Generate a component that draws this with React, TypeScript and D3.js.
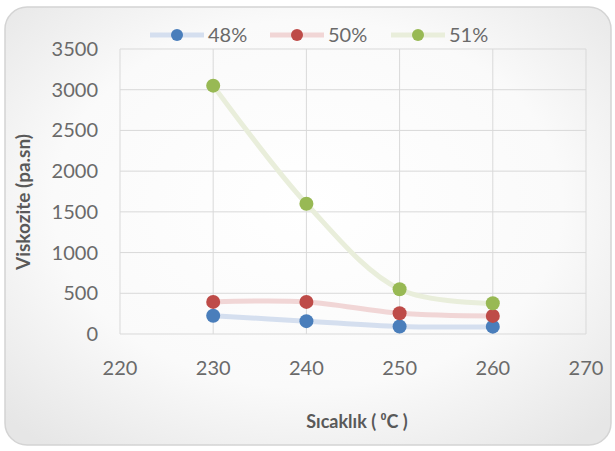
import React from "react";
import * as d3 from "d3";

const temps = [230, 240, 250, 260];
const s48 = [225, 158, 92, 90];
const s50 = [394, 394, 255, 222];
const s51 = [3050, 1600, 550, 378];
const seriesNames = ["48%", "50%", "51%"];
const xTicks = [220, 230, 240, 250, 260, 270];
const yTicks = [0, 500, 1000, 1500, 2000, 2500, 3000, 3500];

const W = 615, H = 451;
const L = 120, R = 586, T = 49, B = 334;

export default function App() {
  const x = d3.scaleLinear().domain([220, 270]).range([L, R]);
  const y = d3.scaleLinear().domain([0, 3500]).range([B, T]);
  const series = [
    { name: seriesNames[0], vals: s48, line: "#d5dfef", dot: "#4a7ebb" },
    { name: seriesNames[1], vals: s50, line: "#f1d6d6", dot: "#be4b48" },
    { name: seriesNames[2], vals: s51, line: "#e9eedb", dot: "#98b954" },
  ];
  const line = d3
    .line<[number, number]>()
    .x((d) => x(d[0]))
    .y((d) => y(d[1]))
    .curve(d3.curveCatmullRom.alpha(0.5));
  const font = "Lato, 'Open Sans', sans-serif";
  const legendX = [150, 270, 391];
  return (
    <svg width={W} height={H} style={{ position: "absolute", left: 0, top: 0 }}>
      <defs>
        <radialGradient id="bg" cx="50%" cy="45%" r="70%">
          <stop offset="0%" stopColor="#ffffff" />
          <stop offset="60%" stopColor="#fafafa" />
          <stop offset="100%" stopColor="#e6e6e6" />
        </radialGradient>
      </defs>
      <rect x={0} y={0} width={W} height={H} fill="#ffffff" />
      <rect x={5} y={7} width={606} height={438} rx={22} ry={22} fill="url(#bg)" stroke="#d4d4d4" strokeWidth={1.5} />
      {yTicks.map((t) => (
        <line key={"gy" + t} x1={L} x2={R} y1={y(t)} y2={y(t)} stroke="#d9d9d9" strokeWidth={1} />
      ))}
      {xTicks.map((t) => (
        <line key={"gx" + t} x1={x(t)} x2={x(t)} y1={T} y2={B} stroke="#d9d9d9" strokeWidth={1} />
      ))}
      {yTicks.map((t) => (
        <text key={"ty" + t} x={98} y={y(t)} dy="0.35em" textAnchor="end" fontFamily={font} fontSize={20} fill="#6a6a6a">
          {t}
        </text>
      ))}
      {xTicks.map((t) => (
        <text key={"tx" + t} x={x(t)} y={368} dy="0.35em" textAnchor="middle" fontFamily={font} fontSize={20} fill="#6a6a6a">
          {t}
        </text>
      ))}
      {series.map((s) => (
        <path
          key={"l" + s.name}
          d={line(temps.map((t, i) => [t, s.vals[i]] as [number, number])) || ""}
          fill="none"
          stroke={s.line}
          strokeWidth={5}
        />
      ))}
      {series.map((s) =>
        temps.map((t, i) => (
          <circle key={"c" + s.name + t} cx={x(t)} cy={y(s.vals[i])} r={7} fill={s.dot} />
        ))
      )}
      {series.map((s, i) => (
        <g key={"lg" + s.name}>
          <line x1={legendX[i]} x2={legendX[i] + 54} y1={35} y2={35} stroke={s.line} strokeWidth={5} />
          <circle cx={legendX[i] + 27} cy={35} r={6} fill={s.dot} />
          <text x={legendX[i] + 58} y={35} dy="0.35em" fontFamily={font} fontSize={20} fill="#6a6a6a">
            {s.name}
          </text>
        </g>
      ))}
      <text x={357} y={422} dy="0.35em" textAnchor="middle" fontFamily={font} fontWeight="bold" fontSize={18} fill="#595959">
        Sıcaklık ( ⁰C )
      </text>
      <text
        transform={`translate(23,202) rotate(-90)`}
        textAnchor="middle"
        dy="0.35em"
        fontFamily={font}
        fontWeight="bold"
        fontSize={19}
        fill="#595959"
      >
        Viskozite (pa.sn)
      </text>
    </svg>
  );
}
